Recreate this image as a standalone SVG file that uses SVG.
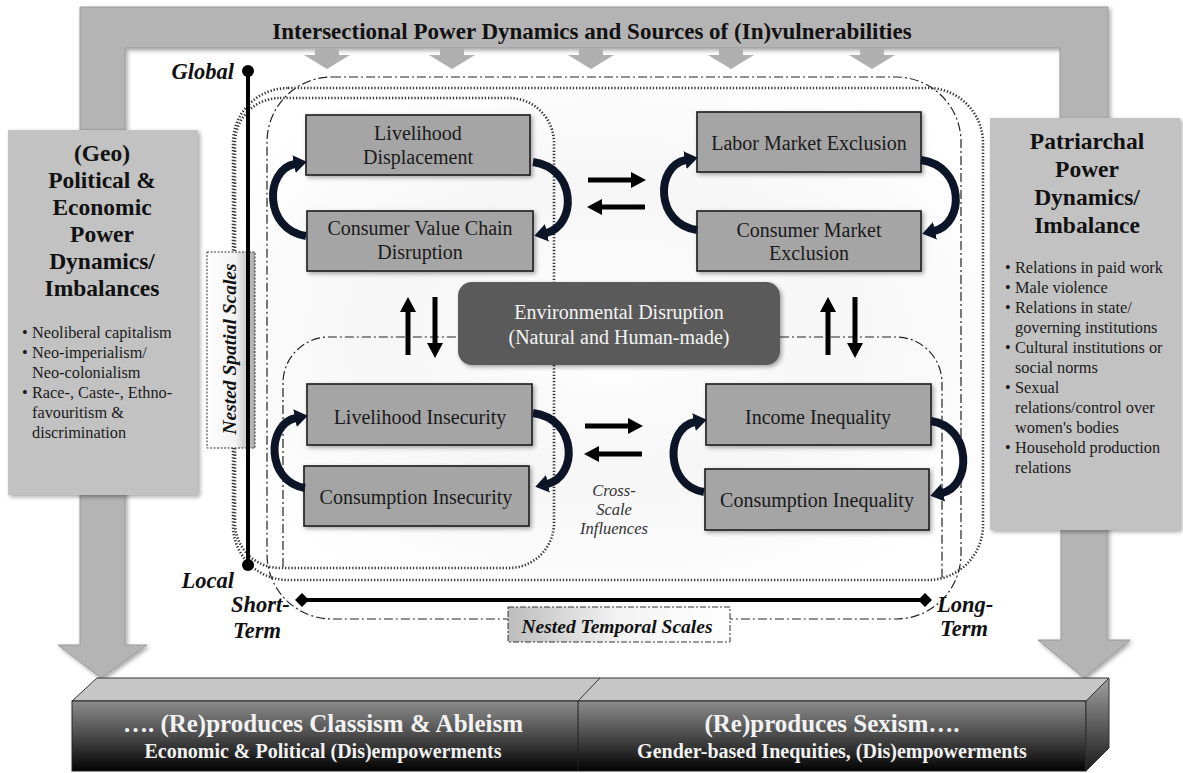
<svg xmlns="http://www.w3.org/2000/svg" width="1183" height="773" viewBox="0 0 1183 773">
<defs>
<style>
.serif{font-family:"Liberation Serif","Times New Roman",serif}
.band{fill:#b4b4b4;stroke:#9a9a9a;stroke-width:1}
.small{fill:#b0b0b0}
.node rect{fill:#a5a5a5;stroke:#1c1c1c;stroke-width:1.6}
.ntext{font-family:"Liberation Serif","Times New Roman",serif;font-size:20px;fill:#1a1a1a;text-anchor:middle}
.htitle{font-family:"Liberation Serif","Times New Roman",serif;font-size:23.5px;font-weight:bold;fill:#111;text-anchor:middle}
.bul{font-family:"Liberation Serif","Times New Roman",serif;font-size:16.3px;fill:#1a1a1a}
.dots{fill:none;stroke:#333;stroke-width:2.6;stroke-dasharray:1.3 1.9}
.dashdot{fill:none;stroke:#222;stroke-width:1.2;stroke-dasharray:9 3 2 3}
.loop{fill:none;stroke:#0c1528;stroke-width:8;marker-end:url(#loopHead)}
.arr{fill:none;stroke:#000;stroke-width:5;marker-end:url(#blkHead)}
.axis{font-family:"Liberation Serif","Times New Roman",serif;font-size:22.5px;font-weight:bold;font-style:italic;fill:#111}
.bar1{font-family:"Liberation Serif","Times New Roman",serif;font-size:25px;font-weight:bold;fill:#f2f2f2;text-anchor:middle}
.bar2{font-family:"Liberation Serif","Times New Roman",serif;font-size:20px;font-weight:bold;fill:#f2f2f2;text-anchor:middle}
</style>
<marker id="loopHead" markerUnits="userSpaceOnUse" markerWidth="14" markerHeight="18" refX="1" refY="9" orient="auto">
<path d="M0,0 L13,9 L0,18 z" fill="#0c1528"/>
</marker>
<marker id="blkHead" markerUnits="userSpaceOnUse" markerWidth="15" markerHeight="16" refX="0" refY="8" orient="auto">
<path d="M0,0 L15,8 L0,16 z" fill="#000"/>
</marker>
<filter id="sh" x="-10%" y="-10%" width="130%" height="130%">
<feDropShadow dx="2" dy="2" stdDeviation="2" flood-color="#000" flood-opacity="0.35"/>
</filter>
<linearGradient id="front" x1="0" y1="0" x2="0" y2="1">
<stop offset="0" stop-color="#8c8c8c"/>
<stop offset="0.5" stop-color="#4a4a4a"/>
<stop offset="1" stop-color="#020202"/>
</linearGradient>
<linearGradient id="sideg" x1="0" y1="0" x2="0" y2="1">
<stop offset="0" stop-color="#a0a0a0"/>
<stop offset="1" stop-color="#1a1a1a"/>
</linearGradient>
<linearGradient id="vscale" x1="0" y1="0" x2="1" y2="0">
<stop offset="0" stop-color="#ffffff"/>
<stop offset="0.6" stop-color="#f2f2f2"/>
<stop offset="1" stop-color="#a8a8a8"/>
</linearGradient>
<linearGradient id="hscale" x1="0" y1="0" x2="1" y2="0">
<stop offset="0" stop-color="#bdbdbd"/>
<stop offset="0.5" stop-color="#f3f3f3"/>
<stop offset="1" stop-color="#ffffff"/>
</linearGradient>
<radialGradient id="inner" cx="0.5" cy="0.5" r="0.6">
<stop offset="0" stop-color="#ffffff"/>
<stop offset="0.5" stop-color="#f6f6f6"/>
<stop offset="1" stop-color="#ffffff"/>
</radialGradient>
</defs>

<rect x="0" y="0" width="1183" height="773" fill="#ffffff"/>

<g id="frame">
<path class="band" d="M80,7 H1108 V120 H1060 V48 H125 V130 H80 Z" filter="url(#sh)"/>
<text class="serif" x="592" y="39" font-size="23" font-weight="bold" fill="#111" text-anchor="middle">Intersectional Power Dynamics and Sources of (In)vulnerabilities</text>
<g class="small">
<path d="M315,48 H339 V55 H350 L327,69 L304,55 H315 Z"/>
<path d="M440,48 H464 V55 H475 L452,69 L429,55 H440 Z"/>
<path d="M579,48 H603 V55 H614 L591,69 L568,55 H579 Z"/>
<path d="M719,48 H743 V55 H754 L731,69 L708,55 H719 Z"/>
<path d="M860,48 H884 V55 H895 L872,69 L849,55 H860 Z"/>
</g>
<path class="band" d="M80,490 H125 V645 H147 L101,678 L58,645 H80 Z" filter="url(#sh)"/>
<path class="band" d="M1061,525 H1107 V640 H1130 L1084,678 L1038,640 H1061 Z" filter="url(#sh)"/>
</g>

<g id="left-panel">
<rect x="8" y="130" width="190" height="365" fill="#c2c2c2" filter="url(#sh)"/>
<text class="htitle" x="102" y="161">(Geo)</text>
<text class="htitle" x="102" y="188">Political &amp;</text>
<text class="htitle" x="102" y="215">Economic</text>
<text class="htitle" x="102" y="242">Power</text>
<text class="htitle" x="102" y="269">Dynamics/</text>
<text class="htitle" x="102" y="296">Imbalances</text>
<text class="bul" x="22" y="338">•</text><text class="bul" x="32" y="338">Neoliberal capitalism</text>
<text class="bul" x="22" y="358">•</text><text class="bul" x="32" y="358">Neo-imperialism/</text>
<text class="bul" x="32" y="378">Neo-colonialism</text>
<text class="bul" x="22" y="398">•</text><text class="bul" x="32" y="398">Race-, Caste-, Ethno-</text>
<text class="bul" x="32" y="418">favouritism &amp;</text>
<text class="bul" x="32" y="438">discrimination</text>
</g>

<g id="right-panel">
<rect x="990" y="118" width="190" height="412" fill="#c2c2c2" filter="url(#sh)"/>
<text class="htitle" x="1087" y="149">Patriarchal</text>
<text class="htitle" x="1087" y="177">Power</text>
<text class="htitle" x="1087" y="205">Dynamics/</text>
<text class="htitle" x="1087" y="233">Imbalance</text>
<text class="bul" x="1005" y="273">•</text><text class="bul" x="1015" y="273">Relations in paid work</text>
<text class="bul" x="1005" y="293">•</text><text class="bul" x="1015" y="293">Male violence</text>
<text class="bul" x="1005" y="313">•</text><text class="bul" x="1015" y="313">Relations in state/</text>
<text class="bul" x="1015" y="333">governing institutions</text>
<text class="bul" x="1005" y="353">•</text><text class="bul" x="1015" y="353">Cultural institutions or</text>
<text class="bul" x="1015" y="373">social norms</text>
<text class="bul" x="1005" y="393">•</text><text class="bul" x="1015" y="393">Sexual</text>
<text class="bul" x="1015" y="413">relations/control over</text>
<text class="bul" x="1015" y="433">women's bodies</text>
<text class="bul" x="1005" y="453">•</text><text class="bul" x="1015" y="453">Household production</text>
<text class="bul" x="1015" y="473">relations</text>
</g>

<g id="bottom-bar">
<polygon points="72,701 97,678 1109,678 1086,701" fill="#c6c6c6" stroke="#333" stroke-width="1"/>
<line x1="578" y1="701" x2="600" y2="678" stroke="#333" stroke-width="1"/>
<rect x="72" y="701" width="1014" height="70" fill="url(#front)" stroke="#222" stroke-width="1"/>
<line x1="578" y1="701" x2="578" y2="771" stroke="#222" stroke-width="1"/>
<polygon points="1086,701 1109,678 1109,748 1086,771" fill="url(#sideg)" stroke="#333" stroke-width="1"/>
<text class="bar1" x="323" y="732">…. (Re)produces Classism &amp; Ableism</text>
<text class="bar2" x="323" y="758">Economic &amp; Political (Dis)empowerments</text>
<text class="bar1" x="832" y="732">(Re)produces Sexism….</text>
<text class="bar2" x="832" y="758">Gender-based Inequities, (Dis)empowerments</text>
</g>

<g id="scales">
<rect x="233" y="88" width="750" height="492" rx="55" fill="url(#inner)"/>
<rect class="dashdot" x="267" y="77" width="694" height="542" rx="65"/>
<path class="dashdot" d="M283,567 V383 A46,46 0 0 1 329,337 H458 M780,337 H896 A46,46 0 0 1 942,383 V580"/>
<rect class="dots" x="233" y="88" width="750" height="492" rx="55"/>
<rect class="dots" x="235" y="98" width="319" height="470" rx="45"/>
<rect x="207" y="252" width="48" height="196" fill="url(#vscale)" stroke="#333" stroke-width="1" stroke-dasharray="2 1.5"/>
<line x1="248" y1="71" x2="248" y2="565" stroke="#000" stroke-width="4"/>
<circle cx="248" cy="71" r="6" fill="#000"/>
<circle cx="248" cy="565" r="6" fill="#000"/>
<text class="axis" x="234" y="79" text-anchor="end">Global</text>
<text class="axis" x="234" y="588" text-anchor="end">Local</text>
<text class="serif" transform="translate(236,349) rotate(-90)" font-size="19.5" font-weight="bold" font-style="italic" fill="#111" text-anchor="middle">Nested Spatial Scales</text>
<rect x="508" y="607" width="222" height="35" fill="url(#hscale)" stroke="#333" stroke-width="1" stroke-dasharray="6 2 2 2"/>
<line x1="302" y1="600" x2="925" y2="600" stroke="#000" stroke-width="4"/>
<polygon points="295,600 302,593 309,600 302,607" fill="#000"/>
<polygon points="918,600 925,593 932,600 925,607" fill="#000"/>
<text class="axis" x="231" y="612">Short-</text>
<text class="axis" x="233" y="638">Term</text>
<text class="axis" x="937" y="612">Long-</text>
<text class="axis" x="940" y="636">Term</text>
<text class="serif" x="617" y="633" font-size="19.5" font-weight="bold" font-style="italic" fill="#111" text-anchor="middle">Nested Temporal Scales</text>
</g>

<g id="n-livelihood-displacement" class="node">
<rect x="306" y="115" width="224" height="60" filter="url(#sh)"/>
<text class="ntext" x="418" y="140">Livelihood</text>
<text class="ntext" x="418" y="164">Displacement</text>
</g>
<g id="n-consumer-value-chain" class="node">
<rect x="307" y="211" width="226" height="60" filter="url(#sh)"/>
<text class="ntext" x="420" y="235">Consumer Value Chain</text>
<text class="ntext" x="420" y="259">Disruption</text>
</g>
<g id="n-labor-market" class="node">
<rect x="697" y="112" width="224" height="60" filter="url(#sh)"/>
<text class="ntext" x="809" y="150">Labor Market Exclusion</text>
</g>
<g id="n-consumer-market" class="node">
<rect x="697" y="211" width="224" height="60" filter="url(#sh)"/>
<text class="ntext" x="809" y="237">Consumer Market</text>
<text class="ntext" x="809" y="260">Exclusion</text>
</g>
<g id="n-environmental">
<rect x="458" y="282" width="322" height="83" rx="14" fill="#5a5a5a" filter="url(#sh)"/>
<text class="serif" x="619" y="319" font-size="20" fill="#f4f4f4" text-anchor="middle">Environmental Disruption</text>
<text class="serif" x="619" y="344" font-size="20" fill="#f4f4f4" text-anchor="middle">(Natural and Human-made)</text>
</g>
<g id="n-livelihood-insecurity" class="node">
<rect x="307" y="384" width="225" height="61" filter="url(#sh)"/>
<text class="ntext" x="420" y="424">Livelihood Insecurity</text>
</g>
<g id="n-consumption-insecurity" class="node">
<rect x="304" y="466" width="225" height="60" filter="url(#sh)"/>
<text class="ntext" x="416" y="504">Consumption Insecurity</text>
</g>
<g id="n-income-inequality" class="node">
<rect x="706" y="384" width="225" height="61" filter="url(#sh)"/>
<text class="ntext" x="818" y="424">Income Inequality</text>
</g>
<g id="n-consumption-inequality" class="node">
<rect x="705" y="469" width="224" height="61" filter="url(#sh)"/>
<text class="ntext" x="817" y="507">Consumption Inequality</text>
</g>

<g id="connectors">
<path class="loop" d="M306,236 C264,230 264,170 295,164"/>
<path class="loop" d="M533,162 C577,168 577,226 546,233"/>
<path class="loop" d="M697,230 C655,224 655,166 686,160"/>
<path class="loop" d="M921,160 C965,166 965,224 934,231"/>
<path class="loop" d="M305,488 C266,482 266,424 296,418"/>
<path class="loop" d="M533,413 C578,419 578,477 547,484"/>
<path class="loop" d="M704,492 C665,486 665,428 695,422"/>
<path class="loop" d="M931,421 C972,427 972,486 942,493"/>
<path class="arr" d="M588,180 H631"/>
<path class="arr" d="M645,207 H602"/>
<path class="arr" d="M585,426 H628"/>
<path class="arr" d="M642,454 H599"/>
<path class="arr" d="M408,355 V312"/>
<path class="arr" d="M435,297 V343"/>
<path class="arr" d="M828,355 V312"/>
<path class="arr" d="M855,297 V343"/>
<text class="serif" font-size="16.5" font-style="italic" fill="#333" text-anchor="middle"><tspan x="614" y="496">Cross-</tspan><tspan x="614" y="515">Scale</tspan><tspan x="614" y="534">Influences</tspan></text>
</g>
</svg>
